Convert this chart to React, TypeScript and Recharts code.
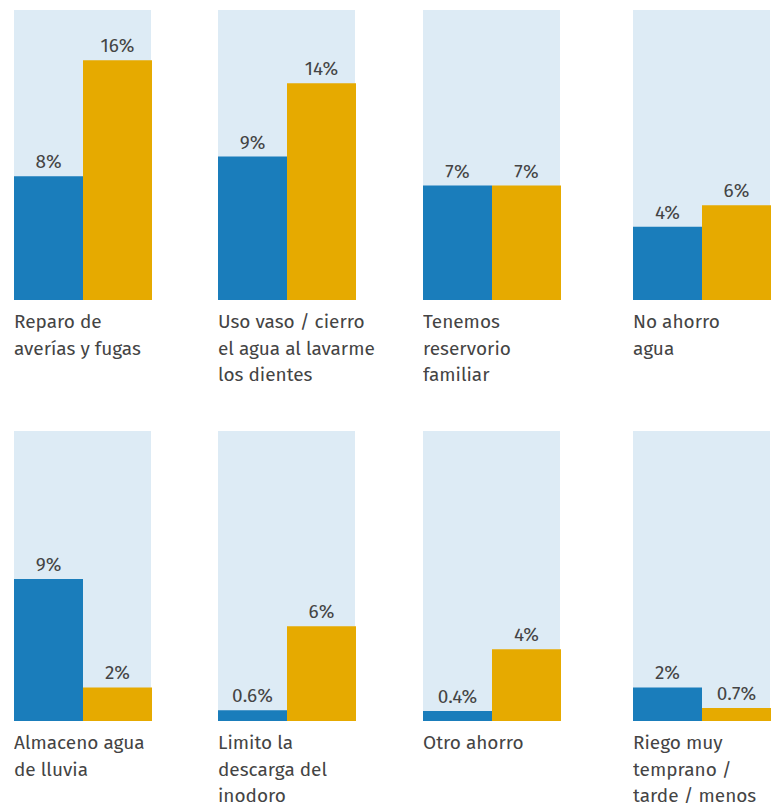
import { BarChart, Bar, XAxis, YAxis, CartesianGrid, LabelList } from 'recharts'

// categories, one per panel
const categories = [
  ['Reparo de', 'averías y fugas'],
  ['Uso vaso / cierro', 'el agua al lavarme', 'los dientes'],
  ['Tenemos', 'reservorio', 'familiar'],
  ['No ahorro', 'agua'],
  ['Almaceno agua', 'de lluvia'],
  ['Limito la', 'descarga del', 'inodoro'],
  ['Otro ahorro'],
  ['Riego muy', 'temprano /', 'tarde / menos'],
]

// bar heights (percent)
const blueValues = [8.1, 9.4, 7.5, 4.8, 9.3, 0.7, 0.65, 2.2]
const goldValues = [15.7, 14.2, 7.5, 6.2, 2.2, 6.2, 4.7, 0.85]

// printed value labels
const blueLabels = ['8%', '9%', '7%', '4%', '9%', '0.6%', '0.4%', '2%']
const goldLabels = ['16%', '14%', '7%', '6%', '2%', '6%', '4%', '0.7%']

const colLeft = [14, 218, 423, 633]
const rowTop = [10, 431]
const PLOT_W = 137
const EXTRA_W = 60 // room on the right for long labels
const PLOT_H = 290
const AXIS_H = 100
const FONT = '"Fira Sans", "Open Sans", sans-serif'
const TEXT = '#444444'
const FS = 19
const LINE_H = 26.5

function CategoryTick({ lines }: { lines: string[] }) {
  return (
    <text x={0} y={PLOT_H + 28} fill={TEXT} fontSize={FS} fontFamily={FONT} textAnchor="start">
      {lines.map((l, i) => (
        <tspan key={i} x={0} y={PLOT_H + 28 + i * LINE_H}>
          {l}
        </tspan>
      ))}
    </text>
  )
}

function Panel({ index }: { index: number }) {
  const data = [
    {
      name: categories[index].join(' '),
      blue: blueValues[index],
      gold: goldValues[index],
      blueLabel: blueLabels[index],
      goldLabel: goldLabels[index],
    },
  ]
  const left = colLeft[index % 4]
  const top = rowTop[Math.floor(index / 4)]
  return (
    <div style={{ position: 'absolute', left, top }}>
      <BarChart
        width={PLOT_W + EXTRA_W}
        height={PLOT_H + AXIS_H}
        data={data}
        margin={{ top: 0, right: EXTRA_W, left: 0, bottom: 0 }}
        barCategoryGap={0}
        barGap={0}
      >
        <CartesianGrid fill="#ddebf5" horizontal={false} vertical={false} stroke="none" />
        <XAxis
          dataKey="name"
          height={AXIS_H}
          axisLine={false}
          tickLine={false}
          interval={0}
          tick={() => <CategoryTick lines={categories[index]} />}
        />
        <YAxis hide domain={[0, 19]} />
        <Bar dataKey="blue" fill="#1a7dbb" isAnimationActive={false}>
          <LabelList
            dataKey="blueLabel"
            position="top"
            offset={8}
            fill={TEXT}
            fontSize={FS}
            fontFamily={FONT}
          />
        </Bar>
        <Bar dataKey="gold" fill="#e6aa00" isAnimationActive={false}>
          <LabelList
            dataKey="goldLabel"
            position="top"
            offset={8}
            fill={TEXT}
            fontSize={FS}
            fontFamily={FONT}
          />
        </Bar>
      </BarChart>
    </div>
  )
}

export default function App() {
  return (
    <div style={{ position: 'absolute', left: 0, top: 0, width: 772, height: 803, overflow: 'hidden' }}>
      {categories.map((_, i) => (
        <Panel key={i} index={i} />
      ))}
    </div>
  )
}
